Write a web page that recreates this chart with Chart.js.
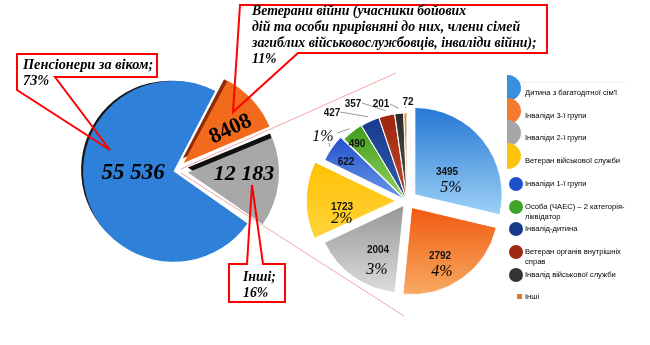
<!DOCTYPE html>
<html><head><meta charset="utf-8">
<script src="https://cdn.jsdelivr.net/npm/chart.js@4.4.1/dist/chart.umd.min.js"></script>
<style>
html,body{margin:0;padding:0;background:#fff;}
#wrap{position:relative;width:650px;height:345px;overflow:hidden;background:#fff;}
canvas{position:absolute;left:0;top:0;}
svg{position:absolute;left:0;top:0;}
.t{position:absolute;white-space:nowrap;}
.ser{font-family:"Liberation Serif","DejaVu Serif",serif;color:#000;}
.bi{font-weight:bold;font-style:italic;}
.num{font-family:"Liberation Sans",Arial,sans-serif;font-weight:bold;font-size:10px;color:#111;}
.c{transform:translate(-50%,-50%);}
.lg{font-family:"Liberation Sans",Arial,sans-serif;font-size:7.6px;color:#000;line-height:10px;}
.mk{position:absolute;}
</style></head>
<body><div id="wrap">
<svg id="bg" width="650" height="345"></svg>
<canvas id="left" width="650" height="345"></canvas>
<canvas id="right" width="650" height="345"></canvas>
<svg id="fg" width="650" height="345"></svg>
<div id="txt"></div>
</div>
<script>
// ---------- DATA ----------
const mainCategories = ['Пенсіонери за віком', 'Ветерани війни (учасники бойових\nдій та особи прирівняні до них, члени сімей\nзагиблих військовослужбовців, інваліди війни)', 'Інші'];
const mainValues = [55536, 8408, 12183];
const mainValueLabels = ['55 536', '8408', '12 183'];
const mainPercents = ['73%', '11%', '16%'];

const subCategories = ['Дитина з багатодітної сім\'ї', 'Інваліди 3-ї групи', 'Інваліди 2-ї групи', 'Ветеран військової служби', 'Інваліди 1-ї групи', 'Особа (ЧАЕС) – 2 категорія-\nліквідатор', 'Інвалід-дитина', 'Ветеран органів внутрішніх\nсправ', 'Інвалід військової служби', 'Інші'];
const subValues = [3495, 2792, 2004, 1723, 622, 490, 427, 357, 201, 72];
const subPercents = ['5%', '4%', '3%', '2%', '1%'];

// ---------- STYLE ----------
const mainColors = ['#2f80d8', '#f26a1c', '#a8a8a8'];
const mainSide = ['#151515', '#8e2c0a', '#101010'];
const mainSideShift = [[-2,-2], [-4,-2], [-2,-5]];
const mainOffsets = [6, 47, 52];

const subTop = ['#2a7ad6','#f05a10','#969696','#ffbf00','#1a48c8','#3a9a1a','#163a8a','#9e240c','#2a2a2a','#d88a28'];
const subBottom = ['#9ed2f6','#f8aa62','#dcdcdc','#ffd640','#6c98ea','#8ccc58','#2c54a6','#b84428','#505050','#e8a848'];
const subRange = [[0.02,0.62],[0.5,1],[0.5,1],[0.25,0.75],[0.1,0.5],[0.05,0.45],[0,0.4],[0,0.4],[0,0.4],[0,0.4]];
const subOffsets = [40, 32, 21, 45, 12, 3, 2, 2, 2, 2];
const legendMarkerColors = ['#3a8ee0','#f47a30','#a6a6a6','#ffc410','#1d4fcf','#3ea326','#163b8b','#a02710','#333333','#e07a20'];

const R_MAIN = 89, R_SUB = 87;

function side3d(colors, shifts){
  return {id:'side3d', beforeDatasetsDraw(chart){
    const meta = chart.getDatasetMeta(0), c = chart.ctx;
    meta.data.forEach((arc,i)=>{
      const p = arc.getProps(['x','y','startAngle','endAngle','outerRadius','circumference'], true);
      const off = arc.options.offset || 0;
      const fix = 1 - Math.sin(Math.min(Math.PI, p.circumference));
      const d = off/4*(1+fix);
      const mid = (p.startAngle+p.endAngle)/2;
      const cx = p.x + Math.cos(mid)*d + shifts[i][0];
      const cy = p.y + Math.sin(mid)*d + shifts[i][1];
      c.save(); c.beginPath(); c.moveTo(cx,cy);
      c.arc(cx,cy,p.outerRadius,p.startAngle,p.endAngle); c.closePath();
      c.fillStyle = colors[i]; c.fill(); c.restore();
    });
  }};
}

const left = new Chart(document.getElementById('left'), {
  type:'pie',
  data:{labels: mainCategories, datasets:[{data: mainValues, backgroundColor: mainColors, borderWidth:0, offset: mainOffsets}]},
  options:{responsive:false, animation:false, rotation:125, radius:R_MAIN,
    layout:{padding:{left:0, top:0, right:300, bottom:3}},
    plugins:{legend:{display:false}, tooltip:{enabled:false}}},
  plugins:[side3d(mainSide, mainSideShift)]
});

function subGradient(ctx){
  const chart = ctx.chart, a = chart.chartArea, i = ctx.dataIndex;
  if(!a) return subTop[i];
  const cy = (a.top+a.bottom)/2;
  const y0 = cy - R_SUB, h = 2*R_SUB;
  const g = chart.ctx.createLinearGradient(0, y0 + subRange[i][0]*h, 0, y0 + subRange[i][1]*h);
  g.addColorStop(0, subTop[i]); g.addColorStop(1, subBottom[i]);
  return g;
}

function arcDisp(arc){
  const p = arc.getProps(['x','y','startAngle','endAngle','outerRadius','circumference'], true);
  const off = arc.options.offset || 0;
  const fix = 1 - Math.sin(Math.min(Math.PI, p.circumference));
  const d = off/4*(1+fix);
  const mid = (p.startAngle+p.endAngle)/2;
  return {p, d, mid};
}
function edgePoint(arc, extra){
  const {p,d,mid} = arcDisp(arc);
  const rr = d + p.outerRadius + extra;
  return [p.x + Math.cos(mid)*rr, p.y + Math.sin(mid)*rr];
}

// label layout (relative to the sub-pie centre), kept separate from data
const subNumPos = [[40,-30],[33,54],[-29,48],[-65,5],[-61,-40],[-50,-58],[-75,-89],[-54,-98],[-26,-98],[1,-100]];
const subPctPos = [[44,-14],[35,70],[-30,68],[-65,17],[-84,-65]];
const leaderStart = {6:[-67,-89], 7:[-45,-98], 8:[-17,-97], 9:[-1,-94]};

const leaders = {id:'leaders', afterDatasetsDraw(chart){
  const meta = chart.getDatasetMeta(0), c = chart.ctx;
  const cx = meta.data[0].x, cy = meta.data[0].y;
  c.save(); c.strokeStyle = '#9a9a9a'; c.lineWidth = 1;
  Object.keys(leaderStart).forEach(k=>{
    const s = leaderStart[k]; const e = edgePoint(meta.data[k], 5);
    c.beginPath(); c.moveTo(cx+s[0], cy+s[1]); c.lineTo(e[0], e[1]); c.stroke();
  });
  let e = edgePoint(meta.data[4], 2);
  c.beginPath(); c.moveTo(cx-78, cy-58); c.lineTo(e[0], e[1]); c.stroke();
  e = edgePoint(meta.data[5], 4);
  c.beginPath(); c.moveTo(cx-70, cy-68); c.lineTo(e[0], e[1]); c.stroke();
  c.restore();
}};

const right = new Chart(document.getElementById('right'), {
  type:'pie',
  data:{labels: subCategories, datasets:[{data: subValues, backgroundColor: subGradient, borderColor:'#ffffff', borderWidth:1, offset: subOffsets}]},
  options:{responsive:false, animation:false, rotation:0, radius:R_SUB,
    layout:{padding:{left:164, top:57, right:0, bottom:0}},
    plugins:{legend:{display:false}, tooltip:{enabled:false}}},
  plugins:[leaders]
});

// ---------- SVG connectors & callouts ----------
const NS = 'http://www.w3.org/2000/svg';
function poly(svg, pts, color, w, closed){
  const el = document.createElementNS(NS, closed ? 'polygon' : 'polyline');
  el.setAttribute('points', pts.map(p=>p.join(',')).join(' '));
  el.setAttribute('fill','none'); el.setAttribute('stroke', color); el.setAttribute('stroke-width', w);
  el.setAttribute('stroke-linejoin','miter');
  svg.appendChild(el);
}
const bg = document.getElementById('bg'), fg = document.getElementById('fg');
const lm = left.getDatasetMeta(0), rm = right.getDatasetMeta(0);
const LC = [lm.data[0].x, lm.data[0].y], RC = [rm.data[0].x, rm.data[0].y];
poly(bg, [[LC[0]+6, LC[1]-2], [RC[0]-11, RC[1]-128]], '#f4a6a6', 1, false);
poly(bg, [[LC[0]+6, LC[1]+2], [RC[0]-3, RC[1]+115]], '#f4a6a6', 1, false);
poly(bg, [[512,82],[626,82]], '#ececec', 1, false);

poly(fg, [[17,54],[157,54],[157,77],[55,77],[110,150],[17,90]], '#ff0000', 2, true);
poly(fg, [[240,5],[547,5],[547,53],[298,53],[233,112]], '#ff0000', 2, true);
poly(fg, [[229,264],[247,264],[252,185],[263,264],[285,264],[285,302],[229,302]], '#ff0000', 2, true);

// ---------- TEXT ----------
const txt = document.getElementById('txt');
function addText(html, x, y, cls, style){
  const d = document.createElement('div');
  d.className = 't ' + cls; d.innerHTML = html;
  d.style.left = x + 'px'; d.style.top = y + 'px';
  if(style) Object.assign(d.style, style);
  txt.appendChild(d); return d;
}
const br = s => s.split('\n').join('<br>');
addText(br(mainCategories[0] + ';\n' + mainPercents[0]), 23, 56, 'ser bi', {fontSize:'14.3px', lineHeight:'16px'});
addText(br(mainCategories[1] + ';\n' + mainPercents[1]), 252, 3, 'ser bi', {fontSize:'13.8px', lineHeight:'16px'});
addText(br(mainCategories[2] + ';\n' + mainPercents[2]), 243, 269, 'ser bi', {fontSize:'13.8px', lineHeight:'16px'});
addText(mainValueLabels[0], LC[0]-42, LC[1]+1, 'ser bi c', {fontSize:'23px'});
addText(mainValueLabels[1], LC[0]+55, LC[1]-43, 'ser', {fontSize:'22px', fontWeight:'bold', transform:'translate(-50%,-50%) rotate(-25deg)'});
addText(mainValueLabels[2], LC[0]+69, LC[1]+2, 'ser bi c', {fontSize:'22px'});
subValues.forEach((v,i)=>{
  addText(String(v), RC[0]+subNumPos[i][0], RC[1]+subNumPos[i][1], 'num c');
});
subPercents.forEach((p,i)=>{
  addText(p, RC[0]+subPctPos[i][0], RC[1]+subPctPos[i][1], 'ser c', {fontSize:'16px', fontStyle:'italic'});
});
subCategories.forEach((name,i)=>{
  const y = 93 + i*22.7;
  const m = document.createElement('div'); m.className = 'mk';
  const col = legendMarkerColors[i];
  if(i < 4){
    Object.assign(m.style, {left:'507px', top:(y-18)+'px', width:'14px', height:'26px', background:col, borderRadius:'0 14px 14px 0 / 0 13px 13px 0'});
  } else if(i < 9){
    Object.assign(m.style, {left:'509px', top:(y-7)+'px', width:'14px', height:'14px', background:col, borderRadius:'50%'});
  } else {
    Object.assign(m.style, {left:'517px', top:(y-3)+'px', width:'5px', height:'5px', background:col});
  }
  txt.appendChild(m);
  addText(br(name), 525, y-5, 'lg');
});
</script>
</body></html>
